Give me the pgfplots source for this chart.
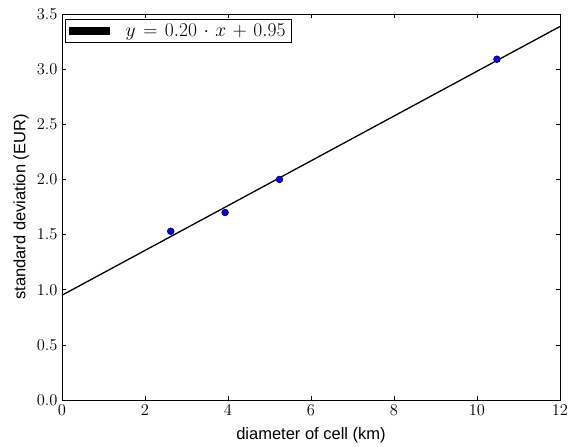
\RequirePackage{fix-cm}
\documentclass[border=0pt]{standalone}
\usepackage{pgfplots}
\pgfplotsset{compat=1.18}
\usepackage{fontspec}
\setsansfont{Liberation Sans}
\begin{document}
\begin{tikzpicture}
\begin{axis}[
  name=ax,
  scale only axis,
  width=498pt, height=386pt,
  xmin=0, xmax=12, ymin=0, ymax=3.5,
  xtick={0,2,...,12},
  ytick={0,0.5,...,3.5},
  yticklabel style={/pgf/number format/fixed, /pgf/number format/fixed zerofill, /pgf/number format/precision=1},
  tick align=inside,
  tick pos=both,
  major tick length=4pt,
  tick style={black, line width=0.6pt},
  axis line style={black, line width=0.9pt},
  ticklabel style={font=\fontsize{16.5}{18}\selectfont},
  xticklabel style={yshift=-1pt},
  yticklabel style={xshift=-1pt},
  xlabel={\sffamily diameter of cell (km)},
  ylabel={\sffamily standard deviation (EUR)},
  label style={font=\fontsize{16.5}{18}\selectfont},
  xlabel style={at={(axis description cs:0.5,0)}, anchor=base, yshift=-39.5pt},
  ylabel style={at={(axis description cs:0,0.5)}, anchor=center, yshift=41pt},
  legend style={draw=black, line width=0.8pt, rounded corners=0pt, inner xsep=4pt, inner ysep=2.5pt,
    column sep=14pt,
    font=\fontsize{19.5}{21}\selectfont, at={(axis description cs:0,1)}, anchor=north west,
    xshift=3pt, yshift=-5pt},
  legend cell align=left,
  legend image code/.code={\fill[black] (0pt,-3.5pt) rectangle (39pt,3.5pt);},
]
\addplot[black, line width=1.3pt, no marks] coordinates {(0,0.950) (12,3.387)};
\addlegendentry{$y\mkern2mu=\mkern2mu0.20\mkern2mu\cdot\mkern2mu x\mkern2mu+\mkern2mu0.95$}
\addplot[only marks, mark=*, mark size=3.4pt, mark options={fill=blue, draw=black, line width=0.5pt}, forget plot]
  coordinates {(2.62,1.53) (3.93,1.70) (5.24,2.00) (10.48,3.09)};
\end{axis}
\pgfresetboundingbox
\useasboundingbox ([xshift=-62pt,yshift=-46.3pt]ax.south west) rectangle ([xshift=16pt,yshift=14pt]ax.north east);
\end{tikzpicture}
\end{document}
